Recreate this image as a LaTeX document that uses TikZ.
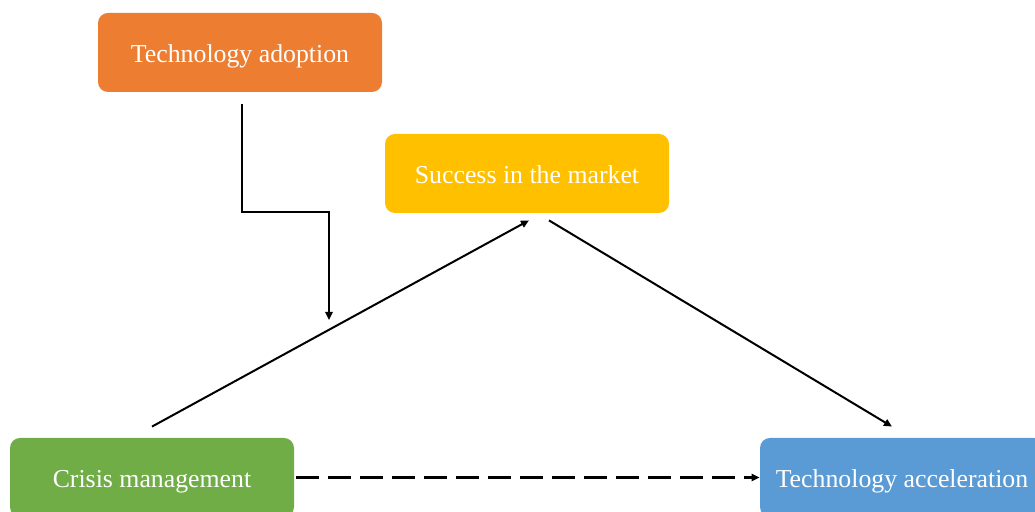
\documentclass[tikz,border=0pt]{standalone}
\usepackage{fontspec}
\setmainfont{Liberation Serif}
\usepackage{xcolor}
\usetikzlibrary{calc,arrows.meta}
\definecolor{adoptc}{HTML}{ED7D31}
\definecolor{marketc}{HTML}{FFC000}
\definecolor{crisisc}{HTML}{70AD47}
\definecolor{accelc}{HTML}{5B9BD5}
\tikzset{
  box/.style={rounded corners=5pt, minimum width=142pt, minimum height=39.5pt,
    inner sep=2pt, text height=11pt, text depth=1pt, text=white,
    font=\fontsize{12.9}{15}\selectfont},
  link/.style={draw=black, line width=1pt, -{Triangle[length=4pt,width=3.6pt]}},
  dlink/.style={link, line width=1.3pt, dash pattern=on 11.5pt off 4.5pt},
}

\begin{document}
\begin{tikzpicture}[x=0.5pt,y=0.5pt]
  \useasboundingbox (0,0) rectangle (1035,512);

  % the four variables
  \node[box,fill=adoptc]  (adopt)  at (240,459.5) {Technology adoption};
  \node[box,fill=marketc] (market) at (527,338.5) {Success in the market};
  \node[box,fill=crisisc] (crisis) at (152,34.5)  {Crisis management};
  \node[box,fill=accelc]  (accel)  at (902,34.5)  {Technology acceleration};

  % moderation arrow ends on the a-path
  \coordinate (mod) at (329,192);
  \draw[link] ($(adopt.south)+(1.5,-12)$) -- ++(0,-108) -| (mod);

  % indirect path
  \draw[link] ($(crisis.north)+(0,11)$) -- ($(market.south)+(2,-7)$);
  \draw[link] ($(market.south)+(22,-7)$) -- ($(accel.north)+(-10,11)$);

  % direct path
  \draw[dlink] ($(crisis.east)+(2,0)$) -- (accel.west);
\end{tikzpicture}
\end{document}
